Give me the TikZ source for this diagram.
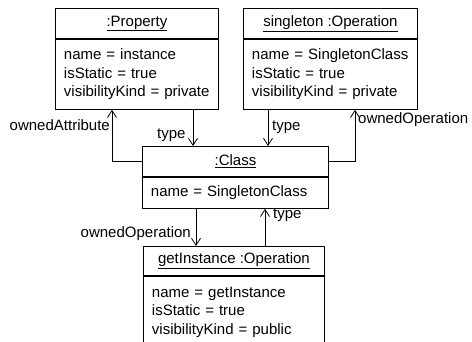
\documentclass[tikz,border=0pt]{standalone}
\usepackage{fontspec}
\setmainfont{Liberation Sans}
\usetikzlibrary{arrows.meta}

\begin{document}
\begin{tikzpicture}[x=1pt,y=-1pt,
  every node/.style={font=\fontsize{15}{18.5}\selectfont},
  objhead/.style={draw, line width=0.9pt, anchor=north west, inner sep=0pt},
  objbody/.style={draw, line width=0.9pt, anchor=north, inner xsep=8.5pt, inner ysep=0pt, align=left},
  lbl/.style={inner sep=0pt},
  arr/.style={line width=0.9pt, -{Straight Barb[length=7pt,width=9pt,line width=0.8pt]}},
  link/.style={line width=0.9pt}]
\useasboundingbox (0,0) rectangle (472,342);
\clip (0,0) rectangle (472,342);

% :Property
\node[objhead, minimum width=163pt, minimum height=30pt] (proph) at (55,8) {\underline{:Property}};
\node[objbody, text width=146pt, minimum height=70pt] (propb) at (proph.south)
  {name = instance\\isStatic = true\\visibilityKind = private};

% singleton :Operation
\node[objhead, minimum width=174pt, minimum height=30pt] (singh) at (243,8) {\underline{singleton :Operation}};
\node[objbody, text width=157pt, minimum height=70pt] (singb) at (singh.south)
  {name = SingletonClass\\isStatic = true\\visibilityKind = private};

% :Class
\node[objhead, minimum width=186pt, minimum height=30pt] (clsh) at (142,146) {\underline{:Class}};
\node[objbody, text width=169pt, minimum height=31pt] (clsb) at (clsh.south)
  {name = SingletonClass};

% getInstance :Operation
\node[objhead, minimum width=181pt, minimum height=29pt] (geth) at (143,246) {\underline{getInstance :Operation}};
\node[objbody, text width=164pt, minimum height=72pt] (getb) at (geth.south)
  {name = getInstance\\isStatic = true\\visibilityKind = public};

% links
\draw[arr] (clsh.west) -| ([xshift=57pt]propb.south west);
\draw[arr] ([xshift=138pt]propb.south west) -- ([xshift=138pt]propb.south west |- clsh.north);
\draw[arr] ([xshift=25pt]singb.south west) -- ([xshift=25pt]singb.south west |- clsh.north);
\draw[arr] (clsh.east) -| ([xshift=112pt]singb.south west);
\draw[arr] ([xshift=54pt]clsb.south west) -- ([xshift=54pt]clsb.south west |- geth.north);
\draw[arr] ([xshift=122pt]geth.north west) -- ([xshift=122pt]geth.north west |- clsb.south);

% link labels
\node[lbl, anchor=east] (l1) at (110,125) {ownedAttribute};
\node[lbl, anchor=west] (l2) at (157,135) {type};
\node[lbl, anchor=west] (l3) at (272,127) {type};
\node[lbl, anchor=west] (l4) at (358,120) {ownedOperation};
\node[lbl, anchor=east] (l5) at (191,234) {ownedOperation};
\node[lbl, anchor=west] (l6) at (273,215) {type};
\end{tikzpicture}
\end{document}
